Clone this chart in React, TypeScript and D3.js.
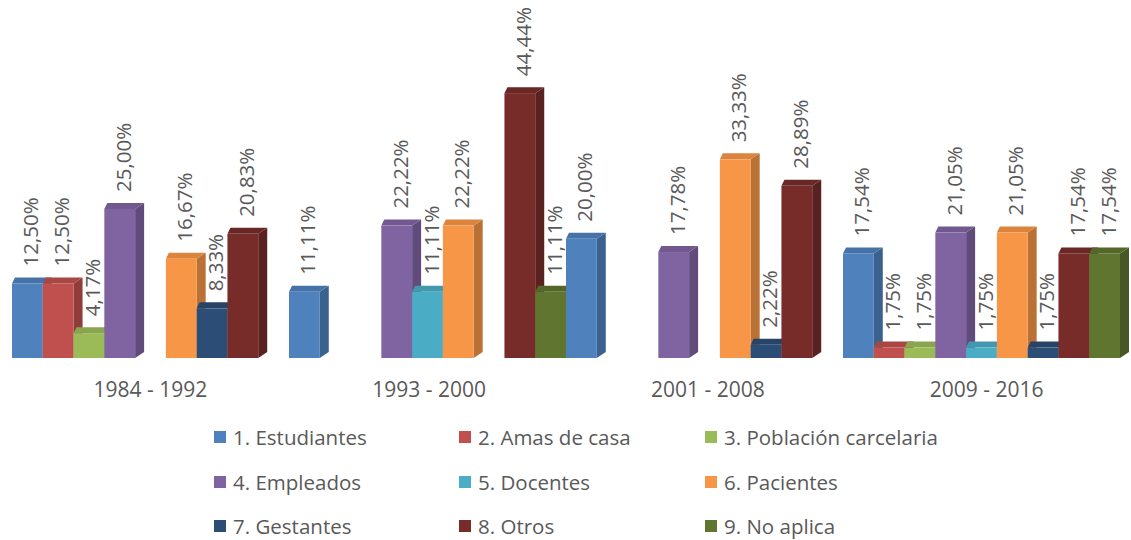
import React from 'react';
import * as d3 from 'd3';

const categories = ['1984 - 1992', '1993 - 2000', '2001 - 2008', '2009 - 2016'];
const seriesNames = [
  '1. Estudiantes',
  '2. Amas de casa',
  '3. Población carcelaria',
  '4. Empleados',
  '5. Docentes',
  '6. Pacientes',
  '7. Gestantes',
  '8. Otros',
  '9. No aplica',
];
const colors = ['#4F81BD', '#C0504D', '#9BBB59', '#8064A2', '#4BACC6', '#F79646', '#2C4D75', '#772C2A', '#5F7530'];

// un arreglo por serie, un valor por periodo (0 = sin barra)
const estudiantes = [12.5, 11.11, 20.0, 17.54];
const amasDeCasa = [12.5, 0, 0, 1.75];
const poblacionCarcelaria = [4.17, 0, 0, 1.75];
const empleados = [25.0, 22.22, 17.78, 21.05];
const docentes = [0, 11.11, 0, 1.75];
const pacientes = [16.67, 22.22, 33.33, 21.05];
const gestantes = [8.33, 0, 2.22, 1.75];
const otros = [20.83, 44.44, 28.89, 17.54];
const noAplica = [0, 11.11, 0, 17.54];

const series = [estudiantes, amasDeCasa, poblacionCarcelaria, empleados, docentes, pacientes, gestantes, otros, noAplica];

const W = 1131;
const H = 540;
const font = "'Open Sans', sans-serif";
const textColor = '#595959';

function App() {
  const x0 = d3.scaleBand<string>().domain(categories).range([12, 1120]).paddingInner(0).paddingOuter(0);
  const x1 = d3.scaleBand<number>().domain(d3.range(seriesNames.length)).range([0, x0.bandwidth()]);
  const xLabel = d3.scaleBand<string>().domain(categories).range([11, 1126]);
  const y = d3.scaleLinear().domain([0, 50]).range([358, 60]);

  const dx = 9; // profundidad 3D
  const dxBack = 3;
  const dy = 6;

  const bars: { x: number; w: number; yt: number; yb: number; c: string; v: number }[] = [];
  categories.forEach((cat, gi) => {
    series.forEach((vals, si) => {
      const v = vals[gi];
      if (!v) return;
      bars.push({ x: x0(cat)! + x1(si)!, w: x1.bandwidth(), yt: y(v), yb: y(0), c: colors[si], v });
    });
  });

  const fmt = (v: number) => v.toFixed(2).replace('.', ',') + '%';

  const legendCols = [214, 459, 705];
  const legendRows = [437, 482, 526];

  return (
    <svg width={W} height={H} style={{ position: 'absolute', left: 0, top: 0, background: '#fff' }}>
      <g>
        {bars.map((b, i) => {
          const front = d3.color(b.c)!;
          const top = front.darker(0.35).toString();
          const side = front.darker(0.8).toString();
          const xa = b.x;
          const xb = b.x + b.w;
          return (
            <g key={i}>
              <polygon points={`${xb},${b.yt} ${xb + dx},${b.yt - dy} ${xb + dx},${b.yb - dy} ${xb},${b.yb}`} fill={side} />
              <polygon points={`${xa},${b.yt} ${xb},${b.yt} ${xb + dx},${b.yt - dy} ${xa + dxBack},${b.yt - dy}`} fill={top} />
              <rect x={xa} y={b.yt} width={b.w} height={b.yb - b.yt} fill={b.c} />
            </g>
          );
        })}
      </g>
      <g>
        {bars.map((b, i) => {
          const lx = b.x + b.w / 2 + 3;
          const ly = b.yt - 17;
          return (
            <text
              key={i}
              transform={`translate(${lx},${ly}) rotate(-90)`}
              dominantBaseline="central"
              textAnchor="start"
              fontFamily={font}
              fontSize={20.5}
              fill={textColor}
            >
              {fmt(b.v)}
            </text>
          );
        })}
      </g>
      <g>
        {categories.map((c) => (
          <text
            key={c}
            x={xLabel(c)! + xLabel.bandwidth() / 2}
            y={389}
            textAnchor="middle"
            dominantBaseline="central"
            fontFamily={font}
            fontSize={21}
            fill={textColor}
          >
            {c}
          </text>
        ))}
      </g>
      <g>
        {seriesNames.map((n, i) => {
          const lx = legendCols[i % 3];
          const ly = legendRows[Math.floor(i / 3)];
          return (
            <g key={n}>
              <rect x={lx} y={ly - 6} width={12} height={12} fill={colors[i]} />
              <text x={lx + 19} y={ly} dominantBaseline="central" fontFamily={font} fontSize={20.5} fill={textColor}>
                {n}
              </text>
            </g>
          );
        })}
      </g>
    </svg>
  );
}

export default App;
